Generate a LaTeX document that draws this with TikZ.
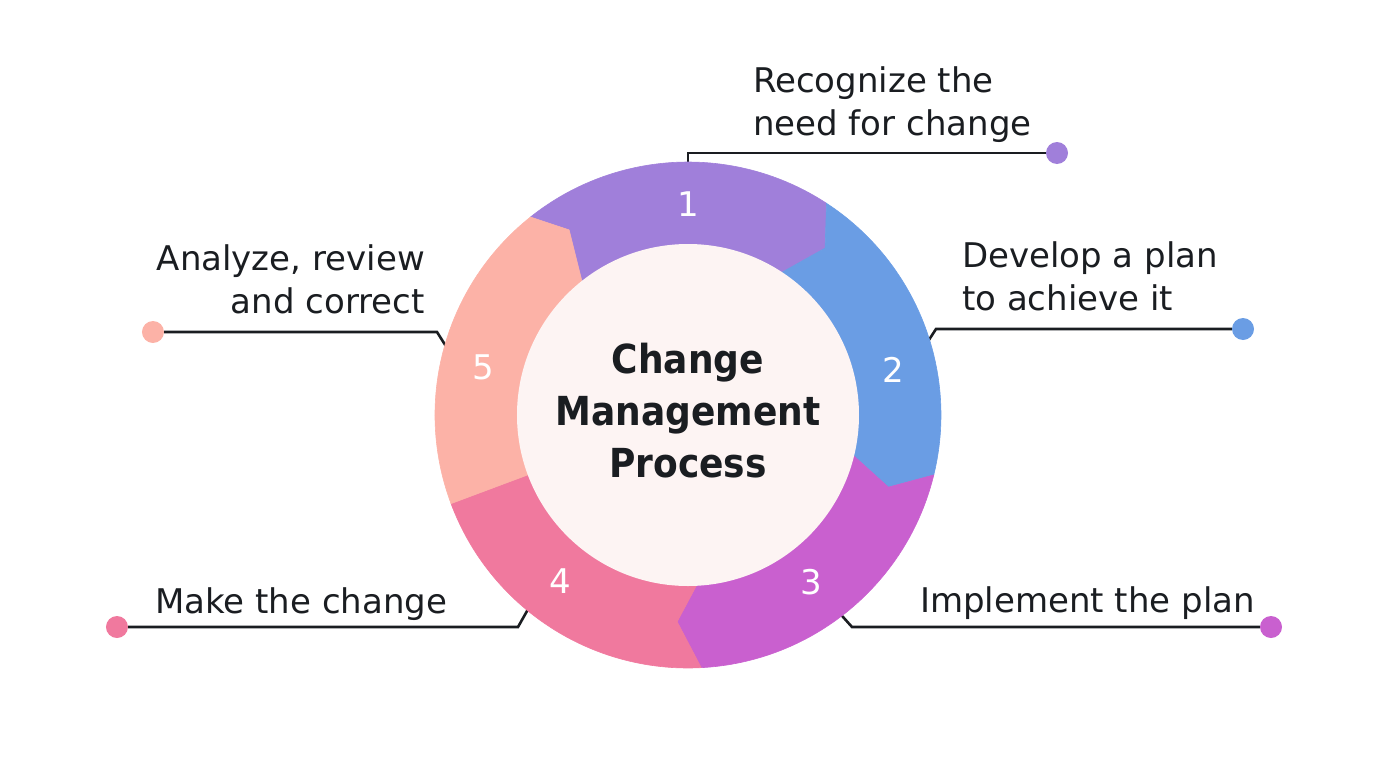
\documentclass[tikz,border=0pt]{standalone}
\usepackage{fontspec}
\setmainfont{DejaVu Sans}
\newfontfamily\titlefont[FakeStretch=0.9]{DejaVu Sans Bold}

\definecolor{stepone}{RGB}{160,127,218}
\definecolor{steptwo}{RGB}{106,157,228}
\definecolor{stepthree}{RGB}{201,96,207}
\definecolor{stepfour}{RGB}{240,121,158}
\definecolor{stepfive}{RGB}{252,178,167}
\definecolor{hubfill}{RGB}{253,244,243}
\definecolor{ink}{RGB}{26,29,33}

\tikzset{
  steptext/.style={font=\fontsize{34}{43}\selectfont, text=ink, inner sep=0pt},
  stepnum/.style={font=\fontsize{34}{40}\selectfont, text=white, inner sep=0pt},
  leader/.style={draw=ink, line width=2.6pt},
  dot/.style={circle, inner sep=0pt, minimum size=22pt},
}

\begin{document}
\begin{tikzpicture}[x=1pt,y=1pt]
      \useasboundingbox (-688,-365) rectangle (712,415);
      % leaders
      \coordinate (r1) at (0,245);
      \coordinate (k1) at (0,262);
      \node[dot,fill=stepone] (d1) at (369,262) {};
      \draw[leader] (r1)--(k1)--(d1);
      \coordinate (r2) at (237,69);
      \coordinate (k2) at (248,86);
      \node[dot,fill=steptwo] (d2) at (555,86) {};
      \draw[leader] (r2)--(k2)--(d2);
      \coordinate (r3) at (147,-193);
      \coordinate (k3) at (164,-212);
      \node[dot,fill=stepthree] (d3) at (583,-212) {};
      \draw[leader] (r3)--(k3)--(d3);
      \coordinate (r4) at (-157,-189);
      \coordinate (k4) at (-170,-212);
      \node[dot,fill=stepfour] (d4) at (-571,-212) {};
      \draw[leader] (r4)--(k4)--(d4);
      \coordinate (r5) at (-239,64);
      \coordinate (k5) at (-251,83);
      \node[dot,fill=stepfive] (d5) at (-535,83) {};
      \draw[leader] (r5)--(k5)--(d5);
      % ring
      \filldraw[stepone,line width=0.6pt] (128.5:253) arc[start angle=128.5,end angle=56.8,radius=253pt]--(50.6:216)--(56.8:170) arc[start angle=56.8,end angle=128.5,radius=170pt]--(122.7:220)--cycle;
      \filldraw[steptwo,line width=0.6pt] (56.8:253) arc[start angle=56.8,end angle=-13.7,radius=253pt]--(-19.8:213)--(-13.7:170) arc[start angle=-13.7,end angle=56.8,radius=170pt]--(50.6:216)--cycle;
      \filldraw[stepthree,line width=0.6pt] (-13.7:253) arc[start angle=-13.7,end angle=-87,radius=253pt]--(-93:207)--(-87:170) arc[start angle=-87,end angle=-13.7,radius=170pt]--(-19.8:213)--cycle;
      \filldraw[stepfour,line width=0.6pt] (-87:253) arc[start angle=-87,end angle=-159.5,radius=253pt]--(-159.5:170) arc[start angle=-159.5,end angle=-87,radius=170pt]--(-93:207)--cycle;
      \filldraw[stepfive,line width=0.6pt] (200.5:253) arc[start angle=200.5,end angle=128.5,radius=253pt]--(122.7:220)--(128.5:170) arc[start angle=128.5,end angle=200.5,radius=170pt]--cycle;
      \fill[hubfill] (0,0) circle[radius=171pt];
      \node[font=\titlefont\fontsize{40}{52}\selectfont, text=ink, align=center, inner sep=0pt] (title) at (0,4) {Change\\Management\\Process};
      % numbers
      \node[stepnum] (n1) at (90:211) {1};
      \node[stepnum] (n2) at (12.5:210) {2};
      \node[stepnum] (n3) at (-53.5:208) {3};
      \node[stepnum] (n4) at (232.5:210) {4};
      \node[stepnum] (n5) at (167:210) {5};
      % labels
      \node[steptext, anchor=west, align=left] (t1) at (65,310) {Recognize the\\need for change};
      \node[steptext, anchor=west, align=left] (t2) at (274,139) {Develop a plan\\to achieve it};
      \node[steptext, anchor=base west] (t3) at (232,-197) {Implement the plan};
      \node[steptext, anchor=base west] (t4) at (-533,-198) {Make the change};
      \node[steptext, anchor=east, align=right] (t5) at (-263,136) {Analyze, review\\and correct};
    \end{tikzpicture}
\end{document}
